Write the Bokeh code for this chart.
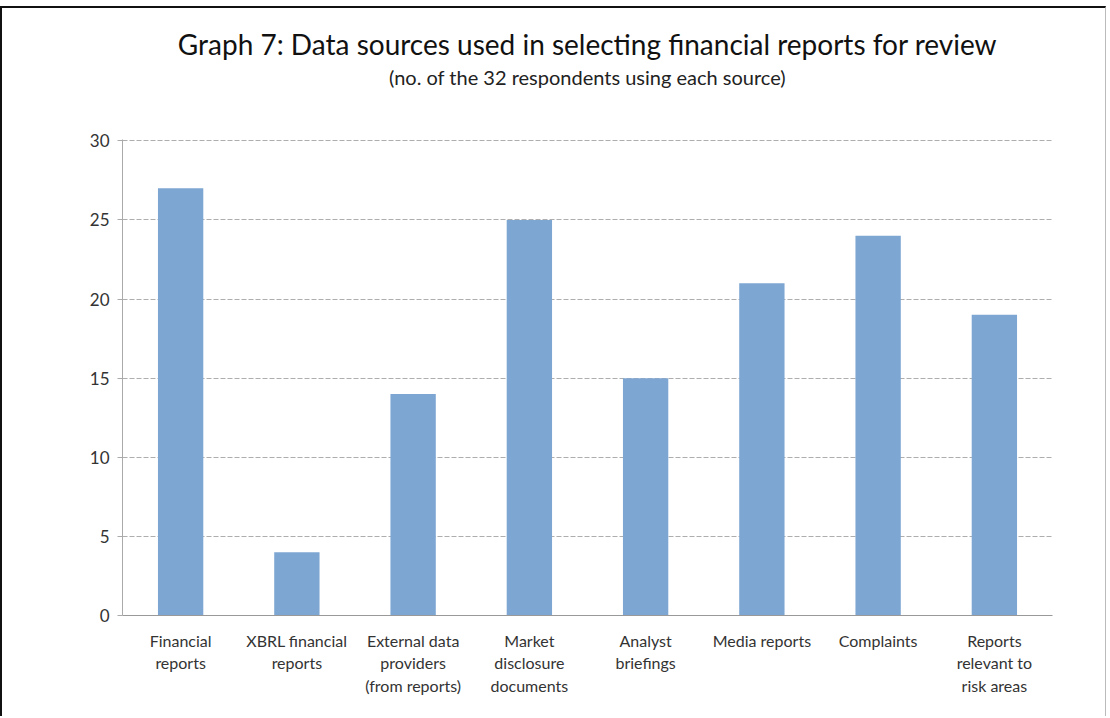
from bokeh.plotting import figure
from bokeh.models import Title, ColumnDataSource, FixedTicker
from bokeh.embed import file_html
from bokeh.resources import INLINE

categories = ["Financial\nreports", "XBRL financial\nreports", "External data\nproviders\n(from reports)",
              "Market\ndisclosure\ndocuments", "Analyst\nbriefings", "Media reports", "Complaints",
              "Reports\nrelevant to\nrisk areas"]
values = [27, 4, 14, 25, 15, 21, 24, 19]
y_ticks = [0, 5, 10, 15, 20, 25, 30]

FONT = "Lato"

src = ColumnDataSource(dict(cat=categories, val=values))

p = figure(x_range=categories, y_range=(0, 30.08), width=1106, height=710,
           output_backend="svg", toolbar_location=None,
           min_border_left=120, min_border_right=56, min_border_top=131, min_border_bottom=103,
           styles={"border-left": "2px solid #111", "border-top": "2px solid #111",
                   "border-right": "1px solid #bbb", "margin-top": "6px"})

p.vbar(x="cat", top="val", width=0.39, source=src, fill_color="#7EA6D3", line_color=None)

p.add_layout(Title(text=" ", text_font=FONT, text_font_size="41px", standoff=0), "above")
p.add_layout(Title(text="(no. of the 32 respondents using each source)", align="center", offset=-32,
                   text_font=FONT, text_font_size="20px", text_font_style="normal",
                   text_color="#222222", standoff=0), "above")
p.add_layout(Title(text="Graph 7: Data sources used in selecting financial reports for review", align="center",
                   offset=-27, text_font=FONT, text_font_size="28px", text_font_style="normal",
                   text_color="#111111", standoff=3), "above")

p.yaxis.ticker = FixedTicker(ticks=y_ticks)
p.yaxis.major_label_text_font = FONT
p.yaxis.major_label_text_font_size = "17px"
p.yaxis.major_label_text_color = "#333333"
p.yaxis.axis_line_color = "#aaaaaa"
p.yaxis.major_tick_line_color = "#aaaaaa"
p.yaxis.major_tick_in = 0
p.yaxis.major_tick_out = 5
p.yaxis.minor_tick_line_color = None
p.yaxis.major_label_standoff = 8

p.xaxis.major_label_text_font = FONT
p.xaxis.major_label_text_font_size = "16px"
p.xaxis.major_label_text_color = "#333333"
p.xaxis.axis_line_color = "#999999"
p.xaxis.major_tick_line_color = None
p.xaxis.major_label_standoff = 9

p.xgrid.grid_line_color = None
p.ygrid.grid_line_color = "#9a9a9a"
p.ygrid.grid_line_dash = "5 2"
p.ygrid.grid_line_alpha = 0.8
p.outline_line_color = None
p.background_fill_color = "white"
p.border_fill_color = "white"
p.x_range.range_padding = 0

open("out.html", "w").write(file_html(p, INLINE))
